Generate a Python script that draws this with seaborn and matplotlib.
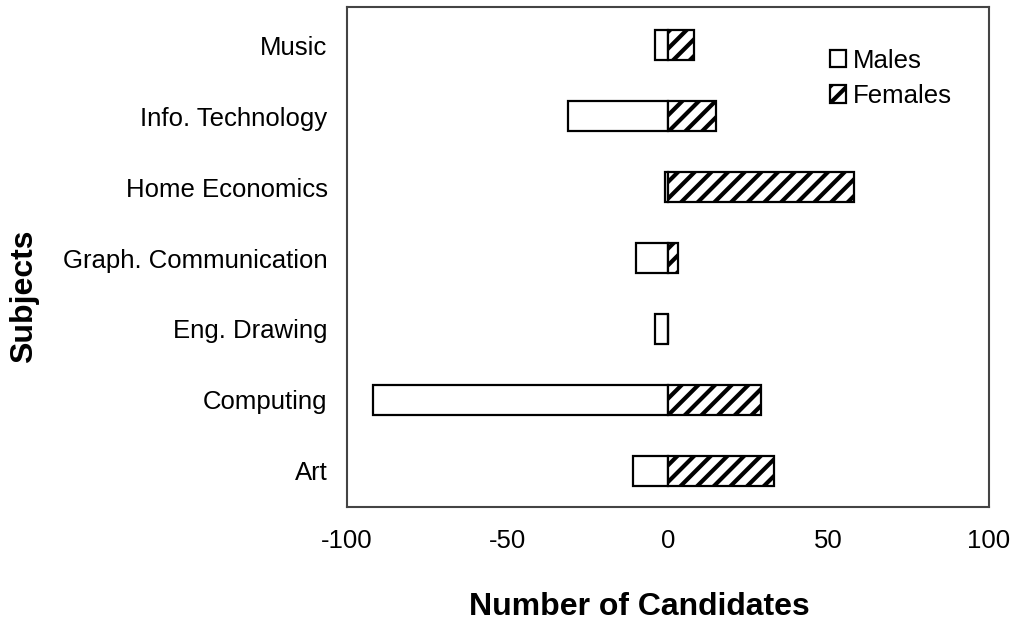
import numpy as np
import matplotlib
matplotlib.use("Agg")
import matplotlib.pyplot as plt
import seaborn as sns

#---- D A T A ----

subjects = ["Music", "Info. Technology", "Home Economics", "Graph. Communication",
            "Eng. Drawing", "Computing", "Art"]
males = [-4, -31, -1, -10, -4, -92, -11]
females = [8, 15, 58, 3, 0, 29, 33]
x_ticks = [-100, -50, 0, 50, 100]

#---- S T Y L E ----

sns.set_style("white")
plt.rcParams["font.family"] = ["Liberation Sans", "DejaVu Sans"]
plt.rcParams["hatch.linewidth"] = 3.0
plt.rcParams["hatch.color"] = "black"
plt.rcParams["text.color"] = "black"
plt.rcParams["axes.labelcolor"] = "black"
plt.rcParams["xtick.color"] = "black"
plt.rcParams["ytick.color"] = "black"

fig = plt.figure(figsize=(10.14, 6.23), dpi=100)
ax = fig.add_axes([347 / 1014, 116 / 623, 642 / 1014, 500 / 623])

#---- P L O T ----

sns.barplot(x=males, y=subjects, orient="h", color="white", saturation=1,
            edgecolor="black", linewidth=1.6, width=0.42, label="Males", ax=ax)
n_male = len(ax.patches)
sns.barplot(x=females, y=subjects, orient="h", color="white", saturation=1,
            edgecolor="black", linewidth=1.6, width=0.42, label="Females", ax=ax)
for p in ax.patches[n_male:]:
    p.set_hatch("//")

ax.set_xlim(-100, 100)
ax.set_ylim(6.51, -0.54)
ax.set_xticks(x_ticks)
ax.set_xticklabels([str(t) for t in x_ticks])
ax.tick_params(axis="both", length=0, labelsize=18.5)
ax.tick_params(axis="y", pad=14)
ax.tick_params(axis="x", pad=16)

for s in ax.spines.values():
    s.set_color("#444444")
    s.set_linewidth(1.5)
    s.set_visible(True)

ax.set_xlabel("Number of Candidates", fontsize=23, fontweight="bold", va="center")
ax.xaxis.set_label_coords(0.455, -0.20)
ax.set_ylabel("Subjects", fontsize=23, fontweight="bold", va="center")
ax.yaxis.set_label_coords(-0.503, 0.422)

ax.legend(loc="upper left", bbox_to_anchor=(0.752, 0.917), frameon=False,
          fontsize=18.5, handlelength=0.65, handleheight=0.65,
          handletextpad=0.25, labelspacing=0.45, borderpad=0,
          borderaxespad=0)

fig.savefig("out.png", dpi=100)
